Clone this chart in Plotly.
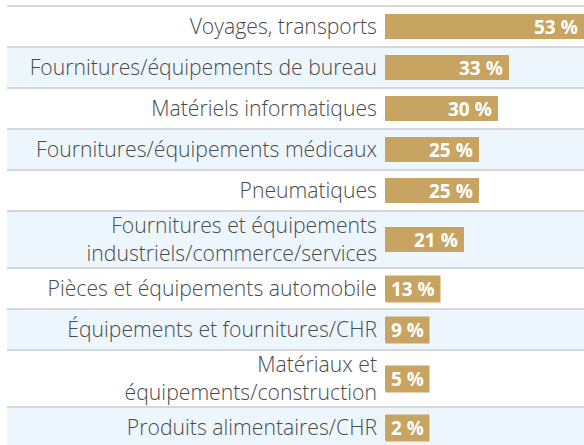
import plotly.graph_objects as go

categories = [
    "Voyages, transports",
    "Fournitures/équipements de bureau",
    "Matériels informatiques",
    "Fournitures/équipements médicaux",
    "Pneumatiques",
    "Fournitures et équipements<br>industriels/commerce/services",
    "Pièces et équipements automobile",
    "Équipements et fournitures/CHR",
    "Matériaux et<br>équipements/construction",
    "Produits alimentaires/CHR",
]
values = [53, 33, 30, 25, 25, 21, 13, 9, 5, 2]
value_labels = [f"{v} %" for v in values]

GOLD = "#C8A462"
BLUE = "#EEF6FD"
LINE = "#C9CCCF"
TEXT = "#4a4a4a"

W, H = 584, 445
ML = 385
MT = 4
plot_w = W - ML
plot_h = H - MT

# row geometry (pixel units on y axis)
row_h = [57 if "<br>" in c else 41 for c in categories]
bounds = [0]
for h in row_h:
    bounds.append(bounds[-1] + h)
centers = [(bounds[i] + bounds[i + 1]) / 2 for i in range(len(categories))]

xmax = 53
px_per_unit = plot_w / xmax

fig = go.Figure()
fig.add_trace(go.Bar(
    y=centers, x=values, orientation="h", width=25,
    marker=dict(color=GOLD, line=dict(width=0)),
    hoverinfo="skip",
))

x_left_paper = (7 - ML) / plot_w
shapes = []
for i in range(len(categories)):
    if i % 2 == 1:
        shapes.append(dict(type="rect", xref="paper", yref="y",
                           x0=x_left_paper, x1=1, y0=bounds[i], y1=bounds[i + 1],
                           fillcolor=BLUE, line=dict(width=0), layer="below"))
for b in bounds[:-1]:
    shapes.append(dict(type="line", xref="paper", yref="y",
                       x0=x_left_paper, x1=1, y0=b, y1=b,
                       line=dict(color=LINE, width=1.5), layer="below"))

LABEL_FS = 19


def est_width(s, fs=LABEL_FS):
    w = 0
    for ch in s:
        if ch.isdigit():
            w += 0.57 * fs
        elif ch == "%":
            w += 0.88 * fs
        else:
            w += 0.26 * fs
    return w


annotations = []
for v, lab, yc in zip(values, value_labels, centers):
    need = est_width(lab) + 10
    if v * px_per_unit < need:
        annotations.append(dict(
            x=0, y=yc, xref="x", yref="y", xanchor="left", yanchor="middle",
            text="\u00a0" + lab + "\u00a0", showarrow=False, bgcolor=GOLD, borderpad=0,
            font=dict(family="Open Sans", size=LABEL_FS, color="white", weight="bold"),
        ))
    else:
        annotations.append(dict(
            x=v, y=yc, xref="x", yref="y", xanchor="right", yanchor="middle",
            text=lab, showarrow=False, xshift=-4,
            font=dict(family="Open Sans", size=LABEL_FS, color="white", weight="bold"),
        ))

fig.update_layout(
    width=W, height=H,
    margin=dict(l=ML, r=0, t=MT, b=0, pad=0),
    paper_bgcolor="white", plot_bgcolor="rgba(0,0,0,0)",
    showlegend=False,
    shapes=shapes,
    annotations=annotations,
    bargap=0,
)
fig.update_xaxes(range=[0, xmax], visible=False, fixedrange=True)
fig.update_yaxes(
    range=[-2 + plot_h, -2], tickmode="array", tickvals=centers, ticktext=categories,
    showgrid=False, zeroline=False, showline=False, ticks="",
    ticklabelstandoff=7,
    tickfont=dict(family="Open Sans", size=21.2, color=TEXT, weight=300),
    fixedrange=True,
)

fig.write_html(
    "out.html",
    config={"displayModeBar": False},
    post_script="document.body.style.margin='0';document.body.style.overflow='hidden';",
)
